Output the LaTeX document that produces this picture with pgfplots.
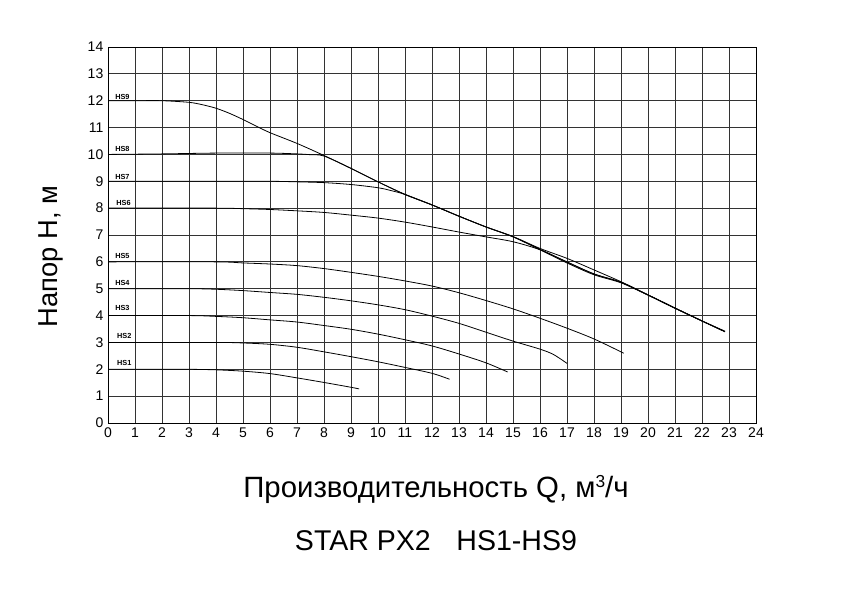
\documentclass[border=0pt]{standalone}
\usepackage{fontspec}
\setmainfont{Liberation Sans}
\usepackage{pgfplots}
\pgfplotsset{compat=1.18}
\tikzset{
  hslabel/.style={anchor=base west, inner sep=0pt, font=\fontsize{5.5}{6}\selectfont\bfseries},
  pc/.style={black, line width=0.6pt, mark=none, smooth, tension=0.5},
}

\begin{document}
\begin{tikzpicture}[x=1pt,y=1pt]
\path[use as bounding box] (-81,-133.5) rectangle (555,317.25);
\begin{axis}[
  at={(0,0)}, anchor=south west,
  scale only axis, width=486pt, height=282pt,
  xmin=0, xmax=24, ymin=0, ymax=14,
  xtick={0,...,24}, ytick={0,...,14},
  grid=major, major grid style={black!80, line width=0.55pt},
  tick style={black!80, line width=0.55pt},
  axis line style={black, line width=0.7pt},
  tick label style={font=\fontsize{10.5}{12}\selectfont},
  /pgf/number format/assume math mode=true,
]
% HS9
\addplot[pc] coordinates {(0,12) (1,12) (2,12) (3,11.94) (3.5,11.85) (4,11.72) (4.5,11.53)
  (5,11.3) (5.5,11.05) (6,10.81) (7,10.41) (8,9.96) (9,9.48) (10,8.98) (11,8.51)
  (12,8.12) (13,7.7) (14,7.3) (15,6.94) (16,6.5) (17,6.13) (18,5.7) (19,5.26)
  (20,4.77) (21,4.28) (22,3.8) (22.85,3.4)};
% HS8
\addplot[pc] coordinates {(0,10) (2,10.02) (4,10.05) (6,10.05) (7,10.02) (7.5,9.99) (8,9.94)
  (9,9.48) (10,8.98) (11,8.51) (12,8.12) (13,7.7) (14,7.3) (15,6.94) (16,6.47)
  (17,5.99) (18,5.55) (19,5.24) (20,4.77) (21,4.28) (22,3.8) (22.85,3.4)};
% HS7
\addplot[pc] coordinates {(0,9) (4,9) (6,9) (7,8.98) (8,8.95) (9,8.88) (10,8.76) (10.5,8.65)
  (11,8.51) (12,8.12) (13,7.7) (14,7.3) (15,6.93) (16,6.45) (17,5.96) (18,5.52)
  (19,5.22) (20,4.76) (21,4.27) (22,3.8) (22.85,3.42)};
% HS6
\addplot[pc] coordinates {(0,8) (4,8) (5,7.98) (6,7.95) (7,7.9) (8,7.84) (9,7.74) (10,7.63)
  (11,7.48) (12,7.3) (13,7.11) (14,6.93) (15,6.75) (16,6.45) (17,6.0) (18,5.55)
  (19,5.24) (20,4.77) (21,4.28) (22,3.8) (22.85,3.4)};
% HS5
\addplot[pc] coordinates {(0,6) (4,6) (5,5.96) (6,5.92) (7,5.86) (8,5.75) (9,5.61) (10,5.46)
  (11,5.29) (12,5.1) (13,4.85) (14,4.56) (15,4.25) (16,3.9) (17,3.53) (18,3.13) (19.1,2.6)};
% HS4
\addplot[pc] coordinates {(0,5) (3,5) (4,4.98) (5,4.93) (6,4.86) (7,4.79) (8,4.68) (9,4.55)
  (10,4.4) (11,4.22) (12,3.98) (13,3.71) (14,3.38) (15,3.05) (16,2.75) (16.5,2.55) (17,2.22)};
% HS3
\addplot[pc] coordinates {(0,4) (3,4) (4,3.97) (5,3.92) (6,3.84) (7,3.76) (8,3.63) (9,3.49)
  (10,3.31) (11,3.1) (12,2.87) (13,2.57) (14,2.24) (14.8,1.9)};
% HS2
\addplot[pc] coordinates {(0,3) (4,3) (5,2.98) (6,2.93) (7,2.82) (8,2.65) (9,2.47) (10,2.28)
  (11,2.07) (12,1.85) (12.65,1.63)};
% HS1
\addplot[pc] coordinates {(0,2) (2,2) (3,2) (4,1.98) (5,1.93) (6,1.84) (7,1.68) (8,1.51)
  (9,1.33) (9.3,1.27)};

\node[hslabel] at (axis cs:0.26,12.05) {HS9};
\node[hslabel] at (axis cs:0.26,10.1) {HS8};
\node[hslabel] at (axis cs:0.26,9.07) {HS7};
\node[hslabel] at (axis cs:0.3,8.1) {HS6};
\node[hslabel] at (axis cs:0.26,6.12) {HS5};
\node[hslabel] at (axis cs:0.26,5.12) {HS4};
\node[hslabel] at (axis cs:0.26,4.19) {HS3};
\node[hslabel] at (axis cs:0.33,3.15) {HS2};
\node[hslabel] at (axis cs:0.33,2.14) {HS1};
\end{axis}
\node[font=\fontsize{22}{26}\selectfont] at (246,-50) {Производительность Q, м{\fontsize{13}{15}\selectfont\raisebox{0.55em}{3}}/ч};
\node[font=\fontsize{21.4}{25}\selectfont] at (246,-88) {STAR PX2\hspace{0.9em}HS1-HS9};
\node[rotate=90, font=\fontsize{20.5}{24}\selectfont] at (-43,125) {Напор H, м};
\end{tikzpicture}
\end{document}
